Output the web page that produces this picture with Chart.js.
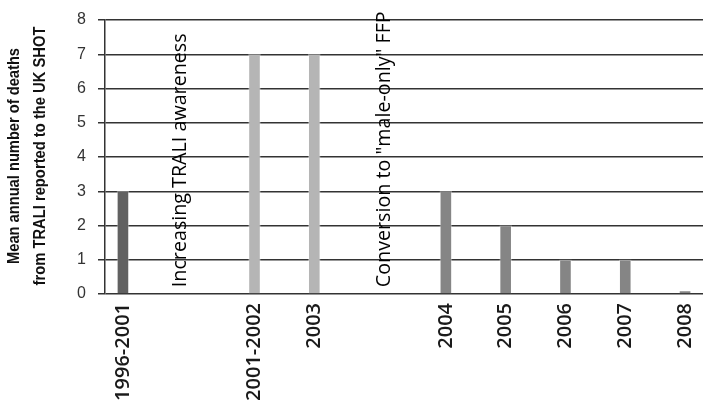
<!DOCTYPE html>
<html>
<head>
<meta charset="utf-8">
<script src="https://cdn.jsdelivr.net/npm/chart.js@4.4.1/dist/chart.umd.min.js"></script>
<style>
  html, body { margin: 0; padding: 0; background: #fff; }
</style>
</head>
<body>
<canvas id="myChart" width="708" height="406"></canvas>
<script>
"use strict";

// periods and mean annual TRALI deaths (UK SHOT)
const categories = ['1996-2001', '2001-2002', '2003', '2004', '2005', '2006', '2007', '2008'];
const deaths = [3, 7, 7, 3, 2, 1, 1, 0.1];
const barColors = ['#616161', '#b5b5b5', '#b5b5b5', '#858585', '#858585', '#858585', '#858585', '#858585'];
const yTicks = [0, 1, 2, 3, 4, 5, 6, 7, 8];
const yTitle = ['Mean annual number of deaths', 'from TRALI reported to the UK SHOT'];

// x axis is split in narrow slots so the uneven spacing of the original can be kept
const slotCount = 50;
const slotOf = [1, 12, 17, 28, 33, 38, 43, 48];

// vertical notes drawn between the bars
const notes = [
    { text: 'Increasing TRALI awareness', slot: 5.8 },
    { text: 'Conversion to "male-only" FFP', slot: 22.9 }
];

// build the slot labels and values
const labels = [];
const values = [];
const colors = [];
for (let i = 0; i < slotCount; i++) {
    labels.push('');
    values.push(null);
    colors.push('#000');
}
slotOf.forEach(function (slot, i) {
    labels[slot] = categories[i];
    values[slot] = deaths[i];
    colors[slot] = barColors[i];
});

// plugin to write the notes rotated inside the plot
const notesPlugin = {
    id: 'notes',
    afterDatasetsDraw(chart) {
        const ctx = chart.ctx;
        const x = chart.scales.x;
        const y = chart.scales.y;
        ctx.save();
        ctx.font = '19.7px "Open Sans"';
        ctx.fillStyle = '#000';
        ctx.textAlign = 'left';
        ctx.textBaseline = 'middle';
        notes.forEach(function (n) {
            ctx.save();
            ctx.translate(x.getPixelForValue(n.slot), y.getPixelForValue(0.2));
            ctx.rotate(-Math.PI / 2);
            ctx.fillText(n.text, 0, 0);
            ctx.restore();
        });
        ctx.restore();
    }
};

// y title drawn by hand: the original uses a narrow bold face
const yTitlePlugin = {
    id: 'yTitle',
    afterDraw(chart) {
        const ctx = chart.ctx;
        const area = chart.chartArea;
        const midY = (area.top + area.bottom) / 2 - 1;
        const baselines = [19, 45];
        const widths = [216, 259];
        ctx.save();
        ctx.font = 'bold 16px "Liberation Sans"';
        ctx.fillStyle = '#111';
        ctx.textAlign = 'center';
        ctx.textBaseline = 'alphabetic';
        yTitle.forEach(function (line, i) {
            ctx.save();
            ctx.translate(baselines[i], midY);
            ctx.rotate(-Math.PI / 2);
            ctx.fillText(line, 0, 0, widths[i]);
            ctx.restore();
        });
        ctx.restore();
    }
};

const ctx = document.getElementById('myChart');
const myChart = new Chart(ctx, {
    type: 'bar',
    data: {
        labels: labels,
        datasets: [
            {
                data: values,
                backgroundColor: colors,
                borderColor: 'rgba(255,255,255,0.35)',
                borderWidth: 1,
                barPercentage: 1,
                categoryPercentage: 1
            }
        ]
    },
    options: {
        responsive: false,
        animation: false,
        layout: {
            padding: { top: 20, right: 5, left: 0, bottom: 0 }
        },
        plugins: {
            legend: { display: false },
            tooltip: { enabled: false }
        },
        scales: {
            x: {
                grid: { display: false, drawTicks: false },
                border: { display: false },
                ticks: {
                    autoSkip: false,
                    minRotation: 90,
                    maxRotation: 90,
                    padding: 9,
                    color: '#1a1a1a',
                    font: { family: '"Open Sans"', size: 20, weight: '600' }
                },
                afterFit: function (scale) {
                    scale.height = 112;
                    scale.paddingLeft = 0;
                    scale.paddingRight = 0;
                }
            },
            y: {
                min: 0,
                max: 8,
                afterBuildTicks: function (scale) {
                    scale.ticks = yTicks.map(function (v) { return { value: v }; });
                },
                grid: {
                    color: '#333',
                    lineWidth: 1.5,
                    tickLength: 7
                },
                border: { display: true, color: '#333', width: 1.5 },
                ticks: {
                    padding: 12,
                    color: '#333',
                    font: { family: '"Liberation Sans"', size: 16 }
                },
                afterFit: function (scale) {
                    scale.width = 105;
                    scale.paddingTop = 0;
                    scale.paddingBottom = 0;
                }
            }
        }
    },
    plugins: [notesPlugin, yTitlePlugin]
});
</script>
</body>
</html>
